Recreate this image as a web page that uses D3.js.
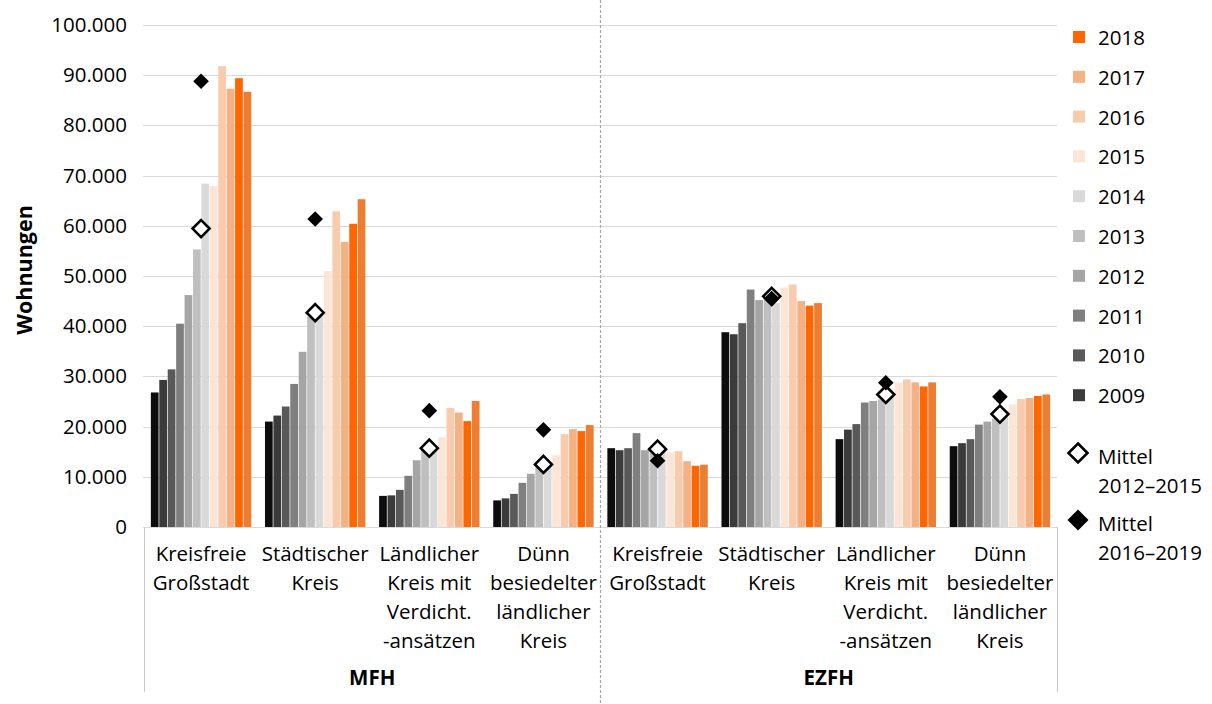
<!DOCTYPE html>
<html>
<head>
<meta charset="utf-8">
<script src="https://cdn.jsdelivr.net/npm/d3@7/dist/d3.min.js"></script>
<style>
  html, body { margin: 0; padding: 0; background: #fff; }
  svg { display: block; font-family: "Open Sans", "Noto Sans", sans-serif; }
</style>
</head>
<body>
<svg id="chart" width="1212" height="704"></svg>
<script>
// Regional categories (lines of each label) and the two building types
const categoryLines = [
  ["Kreisfreie", "Großstadt"],
  ["Städtischer", "Kreis"],
  ["Ländlicher", "Kreis mit", "Verdicht.", "-ansätzen"],
  ["Dünn", "besiedelter", "ländlicher", "Kreis"]
];
const groups = ["MFH", "EZFH"];

// Completed dwellings per year, in category order:
// MFH (4 regions) followed by EZFH (4 regions)
const y2008 = [26800, 21000, 6200, 5300, 15700, 38800, 17500, 16100];
const y2009 = [29300, 22200, 6300, 5700, 15300, 38400, 19400, 16700];
const y2010 = [31400, 24000, 7400, 6600, 15700, 40600, 20500, 17500];
const y2011 = [40500, 28500, 10200, 8800, 18700, 47300, 24800, 20400];
const y2012 = [46200, 34900, 13300, 10600, 15300, 45200, 25100, 21000];
const y2013 = [55300, 41900, 15500, 12000, 15800, 46300, 25400, 21600];
const y2014 = [68400, 43000, 16100, 13000, 16000, 44600, 26400, 23000];
const y2015 = [67900, 51000, 17900, 14300, 14900, 47700, 28700, 24400];
const y2016 = [91800, 62900, 23700, 18500, 15100, 48300, 29400, 25500];
const y2017 = [87300, 56800, 22800, 19500, 13100, 45000, 28800, 25700];
const y2018 = [89400, 60400, 21100, 19100, 12200, 44100, 28000, 26100];
const y2019 = [86700, 65300, 25100, 20300, 12400, 44600, 28800, 26400];

const years = [2008, 2009, 2010, 2011, 2012, 2013, 2014, 2015, 2016, 2017, 2018, 2019];
const seriesValues = [y2008, y2009, y2010, y2011, y2012, y2013, y2014, y2015, y2016, y2017, y2018, y2019];
const seriesColors = ["#0d0d0d", "#3b3b3b", "#595959", "#7f7f7f", "#a5a5a5", "#bfbfbf",
                      "#d9d9d9", "#fbe5d6", "#f8cbad", "#f4b183", "#ff6600", "#ed7d31"];

// Years listed in the legend (top to bottom)
const legendYears = [2018, 2017, 2016, 2015, 2014, 2013, 2012, 2011, 2010, 2009];

// Axis ticks
const yTicks = [0, 10000, 20000, 30000, 40000, 50000, 60000, 70000, 80000, 90000, 100000];

// Period averages, drawn as diamonds
const periodA = [2012, 2013, 2014, 2015];
const periodB = [2016, 2017, 2018, 2019];

const svg = d3.select("#chart");
svg.append("rect").attr("width", 1212).attr("height", 704).attr("fill", "#fff");

const plotLeft = 144, plotRight = 1057, plotTop = 25, plotBottom = 527;
const fontSize = 20.5;

const catIds = d3.range(groups.length * categoryLines.length);
const x0 = d3.scaleBand().domain(catIds).range([plotLeft, plotRight])
  .paddingInner(0.114).paddingOuter(0.057);
const x1 = d3.scaleBand().domain(years).range([0, x0.bandwidth()]).padding(0);
const y = d3.scaleLinear().domain([0, 100000]).range([plotBottom, plotTop]);

const de = d3.formatLocale({ decimal: ",", thousands: ".", grouping: [3], currency: ["", " €"] });
const fmt = de.format(",d");

// Gridlines
svg.append("g").selectAll("line").data(yTicks).join("line")
  .attr("x1", plotLeft - 1).attr("x2", plotRight)
  .attr("y1", d => Math.round(y(d)) + 0.5).attr("y2", d => Math.round(y(d)) + 0.5)
  .attr("stroke", "#d9d9d9").attr("stroke-width", 1);

// Y axis labels
const yAxis = d3.axisLeft(y).tickValues(yTicks).tickFormat(fmt).tickSize(0).tickPadding(17);
const gy = svg.append("g").attr("transform", `translate(${plotLeft},0)`).call(yAxis);
gy.select(".domain").remove();
gy.selectAll("text").attr("font-size", fontSize).attr("fill", "#000")
  .attr("font-family", "'Open Sans', sans-serif");

// Y title
svg.append("text")
  .attr("transform", `translate(23,270) rotate(-90)`)
  .attr("text-anchor", "middle").attr("dominant-baseline", "central")
  .attr("font-size", 21.5).attr("font-weight", "bold").attr("fill", "#000")
  .text("Wohnungen");

// Bars
const barData = [];
catIds.forEach(c => {
  years.forEach((yr, i) => barData.push({ c, yr, v: seriesValues[i][c], color: seriesColors[i] }));
});
svg.append("g").selectAll("rect").data(barData).join("rect")
  .attr("x", d => x0(d.c) + x1(d.yr) + 0.35)
  .attr("width", x1.bandwidth() - 0.7)
  .attr("y", d => y(d.v))
  .attr("height", d => y(0) - y(d.v))
  .attr("fill", d => d.color);

// Diamonds for period means
function diamondPath(cx, cy, r) {
  const p = d3.path();
  p.moveTo(cx, cy - r); p.lineTo(cx + r, cy); p.lineTo(cx, cy + r); p.lineTo(cx - r, cy); p.closePath();
  return p.toString();
}
function periodMean(c, period) {
  return d3.mean(period, yr => seriesValues[years.indexOf(yr)][c]);
}
const meanA = catIds.map(c => periodMean(c, periodA));
const meanB = catIds.map(c => periodMean(c, periodB));

svg.append("g").selectAll("path").data(catIds).join("path")
  .attr("d", c => diamondPath(x0(c) + x0.bandwidth() / 2, y(meanA[c]), 8.5))
  .attr("fill", "#fff").attr("stroke", "#000").attr("stroke-width", 2.6)
  .attr("stroke-linejoin", "miter");
svg.append("g").selectAll("path").data(catIds).join("path")
  .attr("d", c => diamondPath(x0(c) + x0.bandwidth() / 2, y(meanB[c]), 7.8))
  .attr("fill", "#000");

// Category axis frame
const frame = svg.append("g").attr("stroke", "#c8c8c8").attr("stroke-width", 1);
frame.append("line").attr("x1", plotLeft + 0.5).attr("x2", plotLeft + 0.5).attr("y1", plotBottom).attr("y2", 692);
frame.append("line").attr("x1", plotRight + 0.5).attr("x2", plotRight + 0.5).attr("y1", plotBottom).attr("y2", 692);

// Divider between building types
const midX = (x0(3) + x0.bandwidth() + x0(4)) / 2;
svg.append("line").attr("x1", midX).attr("x2", midX).attr("y1", 0).attr("y2", 704)
  .attr("stroke", "#a6a6a6").attr("stroke-width", 1.2).attr("stroke-dasharray", "3,2");

// Category labels
const lineH = 29;
svg.append("g").selectAll("text").data(catIds).join("text")
  .attr("x", c => x0(c) + x0.bandwidth() / 2)
  .attr("y", 553)
  .attr("text-anchor", "middle").attr("font-size", fontSize).attr("fill", "#000")
  .each(function (c) {
    const t = d3.select(this);
    categoryLines[c % categoryLines.length].forEach((ln, i) => {
      t.append("tspan").attr("x", x0(c) + x0.bandwidth() / 2)
        .attr("y", 553 + i * lineH).attr("dominant-baseline", "central").text(ln);
    });
  });

// Group labels
groups.forEach((g, gi) => {
  const left = gi === 0 ? plotLeft : midX, right = gi === 0 ? midX : plotRight;
  svg.append("text").attr("x", (left + right) / 2).attr("y", 677)
    .attr("text-anchor", "middle").attr("dominant-baseline", "central")
    .attr("font-size", fontSize).attr("font-weight", "bold").attr("fill", "#000").text(g);
});

// Legend
const legend = svg.append("g");
legendYears.forEach((yr, i) => {
  const cy = 37 + i * 39.8;
  legend.append("rect").attr("x", 1073).attr("y", cy - 6).attr("width", 12).attr("height", 12)
    .attr("fill", seriesColors[years.indexOf(yr)]);
  legend.append("text").attr("x", 1098).attr("y", cy).attr("dominant-baseline", "central")
    .attr("font-size", fontSize).attr("fill", "#000").text(yr);
});
const meanLegend = [
  { lines: ["Mittel", "2012–2015"], y: 456, open: true },
  { lines: ["Mittel", "2016–2019"], y: 523, open: false }
];
meanLegend.forEach(m => {
  const p = legend.append("path").attr("d", diamondPath(1078, m.y - 3, m.open ? 9.5 : 10.5));
  if (m.open) p.attr("fill", "#fff").attr("stroke", "#000").attr("stroke-width", 2.6);
  else p.attr("fill", "#000");
  m.lines.forEach((ln, i) => {
    legend.append("text").attr("x", 1098).attr("y", m.y + i * 29).attr("dominant-baseline", "central")
      .attr("font-size", fontSize).attr("fill", "#000").text(ln);
  });
});
</script>
</body>
</html>
